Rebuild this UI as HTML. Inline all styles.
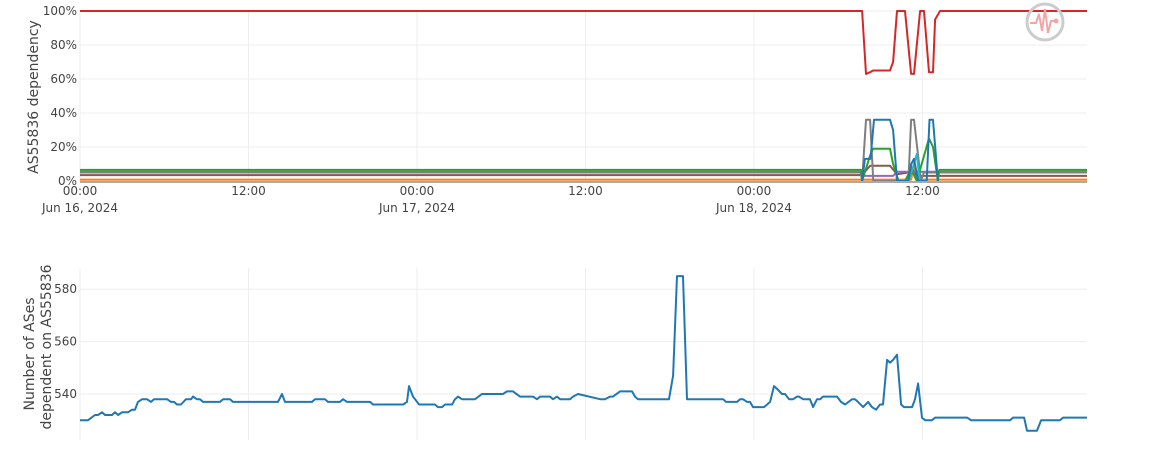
<!DOCTYPE html>
<html><head><meta charset="utf-8"><style>
html,body{margin:0;padding:0;background:#fff;width:1166px;height:450px;overflow:hidden}
svg text{font-family:"DejaVu Sans","Liberation Sans",sans-serif;fill:#444}
</style></head><body>
<svg id="chart" width="1166" height="450"></svg>
<script>
// ---- top chart data (hours since Jun 16 00:00, percent) ----
const redT=[0,55.70,55.98,56.27,56.48,57.69,57.91,58.19,58.76,59.19,59.40,59.83,60.11,60.47,60.75,60.90,61.25,71.72];
const redV=[100,100,63,64,65,65,70,100,100,63,63,100,100,64,64,95,100,100];
const greenT=[0,55.64,55.70,56.27,56.48,57.69,57.91,58.30,58.76,59.19,59.60,60.47,60.75,61.10,61.20,71.72];
const greenV=[6.5,6.5,0,15,19,19,10,0,0,7,0,25,20,0,6.5,6.5];
const grayT=[0,55.60,55.70,55.98,56.27,56.50,59.00,59.19,59.40,59.90,60.10,71.72];
const grayV=[5,5,0,36,36,0,0,36,36,0,5,5];
const blueT=[55.70,55.90,56.30,56.55,57.69,57.91,58.19,59.00,59.20,59.40,59.70,60.30,60.50,60.75,61.10];
const blueV=[0,13,13,36,36,30,0,0,10,13,0,0,36,36,0];
const purpleT=[0,55.70,55.90,57.90,58.20,71.72];
const purpleV=[5.5,5.5,3,3,5.5,5.5];
const brownT=[0,55.70,56.27,57.69,58.19,59.00,59.20,59.60,71.72];
const brownV=[3.5,3.5,9,9,4,5,8,3,3];
const orangeT=[0,59.20,59.40,59.60,71.72];
const orangeV=[0.8,0.8,10,0.8,0.8];
const cyanT=[59.00,59.40,59.60,59.80];
const cyanV=[0,10,16,0];
const pctTicks=[0,20,40,60,80,100];
const timeTicks=[0,12,24,36,48,60];
const timeLabels=["00:00","12:00","00:00","12:00","00:00","12:00"];
const dateLabels=["Jun 16, 2024","","Jun 17, 2024","","Jun 18, 2024",""];
// ---- bottom chart data ----
const cntT=[0,0.57,1.07,1.28,1.57,1.78,2.28,2.49,2.71,2.99,3.42,3.70,3.92,4.13,4.42,4.77,5.06,5.27,6.20,6.48,6.70,6.91,7.19,7.55,7.91,8.05,8.33,8.55,8.76,9.97,10.19,10.68,10.90,14.10,14.39,14.60,16.52,16.74,17.45,17.66,18.52,18.73,19.02,20.66,20.87,23.01,23.29,23.43,23.72,23.86,24.15,25.28,25.50,25.78,26.00,26.50,26.71,26.92,27.21,28.13,28.63,30.13,30.41,30.84,31.34,32.26,32.55,32.76,33.48,33.69,33.97,34.19,34.90,35.11,35.47,37.04,37.39,37.75,37.96,38.46,39.32,39.53,39.74,41.95,42.24,42.52,42.95,43.23,45.80,46.01,46.80,47.01,47.22,47.51,47.72,47.93,48.72,49.15,49.43,49.64,50.00,50.21,50.50,50.78,51.07,51.21,51.50,51.99,52.21,52.49,52.71,52.92,53.92,54.20,54.49,54.99,55.20,55.41,55.77,56.13,56.41,56.70,56.98,57.19,57.48,57.69,57.91,58.19,58.48,58.69,59.26,59.47,59.69,59.97,60.19,60.68,60.90,63.18,63.46,66.24,66.45,67.24,67.45,68.16,68.45,69.80,70.01,71.72];
const cntV=[530,530,532,532,533,532,532,533,532,533,533,534,534,537,538,538,537,538,538,537,537,536,536,538,538,539,538,538,537,537,538,538,537,537,540,537,537,538,538,537,537,538,537,537,536,536,537,543,539,538,536,536,535,535,536,536,538,539,538,538,540,540,541,541,539,539,538,539,539,538,539,538,538,539,540,538,538,539,539,541,541,539,538,538,547,585,585,538,538,537,537,538,538,537,537,535,535,537,543,542,540,540,538,538,539,539,538,538,535,538,538,539,539,537,536,538,538,537,535,537,535,534,536,536,553,552,553,555,536,535,535,538,544,531,530,530,531,531,530,530,531,531,526,526,530,530,531,531];
const cntTicks=[540,560,580];

const NS="http://www.w3.org/2000/svg";
const svg=document.getElementById('chart');
function mk(tag,attrs,parent){const e=document.createElementNS(NS,tag);for(const k in attrs)e.setAttribute(k,attrs[k]);(parent||svg).appendChild(e);return e;}
const X0=80,X1=1087,TMAX=71.72;
const xs=t=>X0+(t/TMAX)*(X1-X0);
const yTop=v=>181-v*1.7;
const yBot=v=>394-(v-540)*2.62;

timeTicks.forEach((t,i)=>{
  const g=mk('line',{x1:xs(t),x2:xs(t),y1:11,y2:181,stroke:'#eee','stroke-width':1});
  
  
  const l=mk('text',{x:xs(t),y:195,'text-anchor':'middle','font-size':12});
  l.textContent=timeLabels[i];
  
  
  if(dateLabels[i]){const d=mk('text',{x:xs(t),y:212,'text-anchor':'middle','font-size':12});d.textContent=dateLabels[i];
  
  }
  const g2=mk('line',{x1:xs(t),x2:xs(t),y1:268,y2:440,stroke:'#eee','stroke-width':1});
  
  
});
pctTicks.forEach(v=>{
  const g=mk('line',{x1:X0,x2:X1,y1:yTop(v),y2:yTop(v),stroke:'#eee','stroke-width':1});
  
  
  const l=mk('text',{x:77,y:yTop(v)+4,'text-anchor':'end','font-size':12});
  l.textContent=v+'%';
  
  
});
cntTicks.forEach(v=>{
  const g=mk('line',{x1:X0,x2:X1,y1:yBot(v),y2:yBot(v),stroke:'#eee','stroke-width':1});
  
  
  const l=mk('text',{x:77,y:yBot(v)+4,'text-anchor':'end','font-size':12});
  l.textContent=v;
  
  
});
const t1=mk('text',{transform:'translate(38,97) rotate(-90)','text-anchor':'middle','font-size':14});
t1.textContent='AS55836 dependency';


const t2=mk('text',{transform:'translate(34,354) rotate(-90)','text-anchor':'middle','font-size':14});
t2.textContent='Number of ASes';


const t3=mk('text',{transform:'translate(51,347) rotate(-90)','text-anchor':'middle','font-size':14});
t3.textContent='dependent on  AS55836';



function series(T,V,yf,color,name){
  const p=mk('polyline',{points:T.map((t,i)=>xs(t).toFixed(1)+','+yf(V[i]).toFixed(1)).join(' '),fill:'none',stroke:color,'stroke-width':2,'stroke-linejoin':'round'});
  
  
}
series(orangeT,orangeV,yTop,'#ff7f0e','series-orange');
series(brownT,brownV,yTop,'#8c564b','series-brown');
series(purpleT,purpleV,yTop,'#9467bd','series-purple');
series(grayT,grayV,yTop,'#7f7f7f','series-gray');
series(greenT,greenV,yTop,'#2ca02c','series-green');
series(cyanT,cyanV,yTop,'#17becf','series-cyan');
series(blueT,blueV,yTop,'#1f77b4','series-blue');
series(redT,redV,yTop,'#d62728','series-red');
const ax=mk('line',{x1:X0,x2:X1,y1:182,y2:182,stroke:'#aaa','stroke-width':2});


series(cntT,cntV,yBot,'#1f77b4','as-count-line');
</script>
<svg style="position:absolute;left:1024px;top:1px" width="44" height="44">
<circle cx="21" cy="21" r="18" fill="none" stroke="#ccc" stroke-width="3"/>
<polyline points="6,22 12,22 15,13 18,30 21,8 24,32 27,20 31,20" fill="none" stroke="#f4a6a6" stroke-width="2"/>
<circle cx="32" cy="20" r="2.5" fill="#f4a6a6"/>
</svg>
</body></html>
